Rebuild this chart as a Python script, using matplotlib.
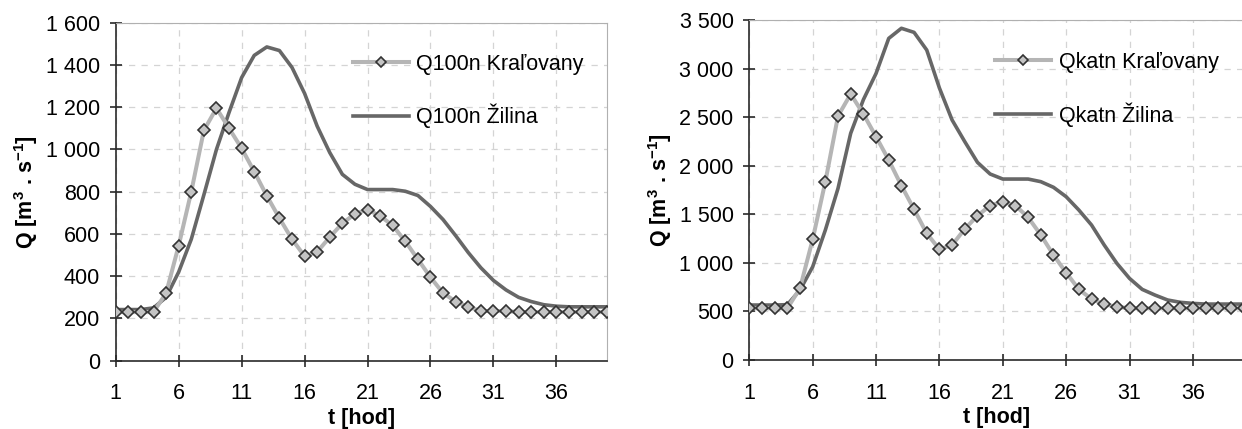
import numpy as np
import matplotlib.pyplot as plt
from matplotlib.ticker import FuncFormatter, MultipleLocator

plt.rcParams['font.family'] = ['Liberation Sans', 'DejaVu Sans']
plt.rcParams['mathtext.fontset'] = 'custom'
plt.rcParams['mathtext.rm'] = 'Liberation Sans:bold'
plt.rcParams['mathtext.bf'] = 'Liberation Sans:bold'

t = np.arange(1, 41)

# Q100n
q100_kralovany = [230, 230, 230, 230, 320, 545, 800, 1090, 1195, 1100,
                  1005, 895, 780, 675, 575, 495, 515, 585, 650, 695,
                  715, 685, 640, 565, 480, 395, 320, 280, 255, 235,
                  235, 235, 230, 230, 230, 230, 230, 230, 230, 230]
q100_zilina = [242, 242, 242, 250, 300, 420, 575, 785, 1000, 1175,
               1340, 1445, 1485, 1468, 1388, 1265, 1110, 985, 882, 835,
               810, 810, 810, 802, 782, 730, 668, 592, 512, 440,
               380, 335, 300, 280, 265, 258, 255, 255, 255, 255]

# Qkatn
qkat_kralovany = [532, 532, 532, 532, 738, 1242, 1836, 2512, 2738, 2533,
                  2299, 2059, 1795, 1551, 1304, 1139, 1184, 1349, 1486, 1589,
                  1630, 1589, 1469, 1287, 1081, 899, 728, 628, 573, 549,
                  532, 532, 532, 532, 532, 532, 532, 532, 532, 532]
qkat_zilina = [566, 566, 566, 570, 720, 960, 1338, 1767, 2334, 2680,
               2950, 3311, 3415, 3373, 3191, 2800, 2471, 2248, 2035, 1915,
               1863, 1863, 1863, 1836, 1778, 1681, 1544, 1390, 1184, 995,
               840, 727, 669, 618, 594, 583, 576, 576, 576, 576]

xticks = [1, 6, 11, 16, 21, 26, 31, 36]
fs = 15.5

fig = plt.figure(figsize=(12.42, 4.29), dpi=100)
ax1 = fig.add_axes([0.0932, 0.1592, 0.3953, 0.788])
ax2 = fig.add_axes([0.6033, 0.1608, 0.398, 0.7925])


def kresli(ax, kral, zil, ymax, ystep, nazov, leg_x, leg_y):
    ax.plot(t, kral, color='#b5b5b5', lw=2.9, marker='D', ms=6.6,
            mfc='#c4c4c4', mec='#333333', mew=1.2, label=nazov + ' Kraľovany', zorder=3)
    ax.plot(t, zil, color='#676767', lw=2.6, label=nazov + ' Žilina', zorder=2)
    ax.set_xlim(1, 40)
    ax.set_ylim(0, ymax)
    ax.set_xticks(xticks)
    ax.yaxis.set_major_locator(MultipleLocator(ystep))
    ax.yaxis.set_major_formatter(FuncFormatter(lambda v, p: f"{v:,.0f}".replace(",", " ")))
    ax.grid(True, color='#d4d4d4', lw=0.9, ls=(0, (5, 5)))
    ax.set_axisbelow(True)
    for s in ['left', 'bottom']:
        ax.spines[s].set_color('#2a2a2a')
        ax.spines[s].set_linewidth(1.2)
    for s in ['top', 'right']:
        ax.spines[s].set_color('#b0b0b0')
        ax.spines[s].set_linewidth(0.8)
    ax.tick_params(axis='x', direction='inout', length=8.6, width=1.2,
                   color='#2a2a2a', labelsize=fs, pad=12)
    ax.tick_params(axis='y', direction='inout', length=8.6, width=1.2,
                   color='#2a2a2a', labelsize=fs, pad=7)
    ax.set_xlabel('t [hod]', fontsize=fs, fontweight='bold', labelpad=2.5)
    ax.set_ylabel(r'Q [m$^{3}$ . s$^{-1}$]', fontsize=fs, fontweight='bold', labelpad=4)
    leg = ax.legend(loc='upper left', bbox_to_anchor=(leg_x, leg_y), frameon=False,
                    fontsize=fs, borderpad=0, handlelength=2.6, handletextpad=0.33,
                    labelspacing=1.35, numpoints=1, borderaxespad=0)
    leg.legend_handles[0].set_markersize(5.2)


kresli(ax1, q100_kralovany, q100_zilina, 1600, 200, 'Q100n', 0.483, 0.908)
kresli(ax2, qkat_kralovany, qkat_zilina, 3500, 500, 'Qkatn', 0.498, 0.906)

fig.savefig('out.png', dpi=100)
